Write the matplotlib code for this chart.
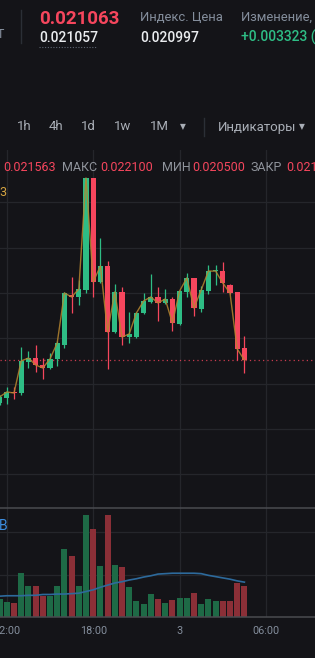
import matplotlib
matplotlib.use("Agg")
import matplotlib.pyplot as plt
from matplotlib.lines import Line2D
import numpy as np

W, H = 315, 658
BG = "#141418"
GREEN = "#2ebd85"
RED = "#f6465d"
VGREEN = "#1e6a46"
VRED = "#8b2f37"
GRID = "#25262b"
GRAY = "#848e9c"
WHITE = "#eaecef"

# ---- data (30m candles, index 0 = 12:00) ----
idx = list(range(-1, 34))
opens = [0.020893, 0.020921, 0.020954, 0.020948, 0.021119, 0.021141, 0.021103, 0.021086,
         0.021136, 0.021213, 0.021489, 0.021478, 0.021517, 0.022135, 0.021561, 0.021649,
         0.021285, 0.021506, 0.021257, 0.021257, 0.021390, 0.021450, 0.021478, 0.021445,
         0.021467, 0.021329, 0.021506, 0.021583, 0.021412, 0.021511, 0.021619, 0.021621,
         0.021544, 0.021506, 0.021196]
highs = [0.020937, 0.020981, 0.020981, 0.021202, 0.021180, 0.021213, 0.021141, 0.021169,
         0.021235, 0.021506, 0.021588, 0.021572, 0.022135, 0.022135, 0.021804, 0.021677,
         0.021550, 0.021533, 0.021395, 0.021395, 0.021500, 0.021605, 0.021533, 0.021522,
         0.021478, 0.021517, 0.021610, 0.021583, 0.021539, 0.021655, 0.021655, 0.021671,
         0.021550, 0.021506, 0.021263]
lows = [0.020882, 0.020887, 0.020915, 0.020937, 0.021086, 0.021064, 0.021025, 0.021081,
        0.021097, 0.021196, 0.021390, 0.021434, 0.021500, 0.021478, 0.021555, 0.021081,
        0.021279, 0.021213, 0.021224, 0.021252, 0.021384, 0.021445, 0.021345, 0.021439,
        0.021290, 0.021323, 0.021478, 0.021373, 0.021395, 0.021494, 0.021544, 0.021506,
        0.021494, 0.021130, 0.021058]
closes = [0.020926, 0.020954, 0.020948, 0.021125, 0.021141, 0.021103, 0.021086, 0.021136,
          0.021224, 0.021500, 0.021478, 0.021522, 0.022135, 0.021561, 0.021649, 0.021285,
          0.021506, 0.021257, 0.021274, 0.021390, 0.021456, 0.021478, 0.021445, 0.021467,
          0.021334, 0.021511, 0.021583, 0.021417, 0.021517, 0.021621, 0.021621, 0.021555,
          0.021500, 0.021191, 0.021130]
volumes = [42, 35, 33, 103, 73, 73, 49, 49, 73, 159, 143, 73, 239, 208, 119, 241, 122, 117,
           70, 37, 30, 54, 42, 33, 40, 44, 44, 56, 30, 42, 37, 37, 37, 80, 73]
vol_ma = [49, 50, 50, 50, 51, 51, 53, 53, 54, 54, 55, 56, 60, 64, 70, 75, 80, 83, 87, 90,
          94, 97, 101, 102, 103, 103, 103, 103, 102, 98, 95, 92, 89, 85, 82]
time_ticks = [0, 12, 24, 36]
time_labels = ["12:00", "18:00", "3", "06:00"]
price_grid = [0.0205, 0.02075, 0.0210, 0.02125, 0.0215, 0.02175, 0.0220]
vol_grid = [100, 200]

plt.rcParams["font.family"] = ["Roboto", "DejaVu Sans"]

fig = plt.figure(figsize=(W / 100, H / 100), dpi=100, facecolor=BG)


def fy(y):
    return 1 - y / H


def fx(x):
    return x / W


def T(x, y, s, **kw):
    kw.setdefault("va", "center")
    fig.text(fx(x), fy(y), s, **kw)


# ---- header ----
T(4, 35, "T", color=GRAY, fontsize=9, ha="right")
fig.add_artist(Line2D([fx(21), fx(21)], [fy(10), fy(43)], color="#2b2f36", lw=1))
T(39, 19.5, "0.021063", color=RED, fontsize=13.5, fontweight="bold")
T(39, 38, "0.021057", color=WHITE, fontsize=10, fontweight="medium")
fig.add_artist(Line2D([fx(39), fx(97)], [fy(47), fy(47)], color="#5e6673", lw=0.8,
                      ls=(0, (1, 1.5))))
T(140, 17.5, "Индекс. Цена", color=GRAY, fontsize=9.4)
T(140, 37.5, "0.020997", color=WHITE, fontsize=10, fontweight="medium")
T(241, 17.5, "Изменение, %", color=GRAY, fontsize=9.4)
T(241, 37.5, "+0.003323 (18.74%)", color=GREEN, fontsize=10, fontweight="medium")

# ---- timeframe row ----
TF = "#a9aeb6"
for x, s in [(17, "1h"), (49, "4h"), (81, "1d"), (114, "1w"), (150, "1M")]:
    T(x, 127, s, color=TF, fontsize=9.5)
T(180, 127, "▼", color=TF, fontsize=5.5)
fig.add_artist(Line2D([fx(204), fx(204)], [fy(118), fy(136)], color="#2b2f36", lw=1))
T(218, 127, "Индикаторы", color=TF, fontsize=9.5)
T(299, 127, "▼", color=TF, fontsize=5.5)

# ---- info row ----
LBL = "#8f939b"
for x, s, c in [(3, "0.021563", RED), (62, "МАКС", LBL), (100, "0.022100", RED),
                (162, "МИН", LBL), (192, "0.020500", RED), (251, "ЗАКР", LBL),
                (286, "0.021063", RED)]:
    T(x, 168, s, color=c, fontsize=9)

# ---- axes ----
xlim = ((0 - 6.8) / 7.2, (W - 6.8) / 7.2)
k = 5.519e-6
ax = fig.add_axes([0, fy(508), 1, (508 - 150) / H], facecolor="none")
ax.set_xlim(*xlim)
ax.set_ylim(0.0215 - 215 * k, 0.0215 + 143 * k)
axv = fig.add_axes([0, fy(617), 1, (617 - 508) / H], facecolor="none")
axv.set_xlim(*xlim)
axv.set_ylim(0, 109 * 100 / 42.5)

for a in (ax, axv):
    a.set_xticks([])
    a.set_yticks([])
    for s in a.spines.values():
        s.set_visible(False)
    for t in time_ticks:
        a.axvline(t, color=GRID, lw=0.9, zorder=0)
for p in price_grid:
    ax.axhline(p, color=GRID, lw=0.9, zorder=0)
for v in vol_grid:
    axv.axhline(v, color=GRID, lw=0.9, zorder=0)
axv.spines["top"].set_visible(True)
axv.spines["bottom"].set_visible(True)
axv.spines["top"].set_color("#4a4b50")
axv.spines["bottom"].set_color("#4a4b50")
axv.spines["top"].set_linewidth(1.1)
axv.spines["bottom"].set_linewidth(1.1)

o = np.array(opens); c = np.array(closes); h = np.array(highs); l = np.array(lows)
x = np.array(idx)
up = c >= o
cols = np.where(up, GREEN, RED)
vcols = np.where(up, VGREEN, VRED)

ax.vlines(x, l, h, colors=cols, lw=0.9, zorder=2)
body_lo = np.minimum(o, c)
body_h = np.maximum(np.abs(c - o), 6e-6)
ax.bar(x, body_h, bottom=body_lo, width=0.7, color=cols, zorder=3, linewidth=0)
ax.plot(x, c, color="#b5852f", lw=1.0, alpha=0.85, zorder=4)
ax.axhline(c[-1], color=RED, lw=0.9, ls=(0, (1, 2.5)), alpha=0.8, zorder=1)

axv.bar(x, volumes, width=0.86, color=vcols, zorder=2, linewidth=0)
axv.plot(x, vol_ma, color="#2d6a9c", lw=1.2, zorder=3)

T(6, 192, "3", color="#d4a441", fontsize=9, ha="right")
T(8, 525.5, "B", color="#3d8ee0", fontsize=10, ha="right")

for t, s in zip(time_ticks, time_labels):
    T(6.8 + 7.2 * t, 631, s, color=GRAY, fontsize=7.8, ha="center")

fig.savefig("out.png", dpi=100, facecolor=BG)
